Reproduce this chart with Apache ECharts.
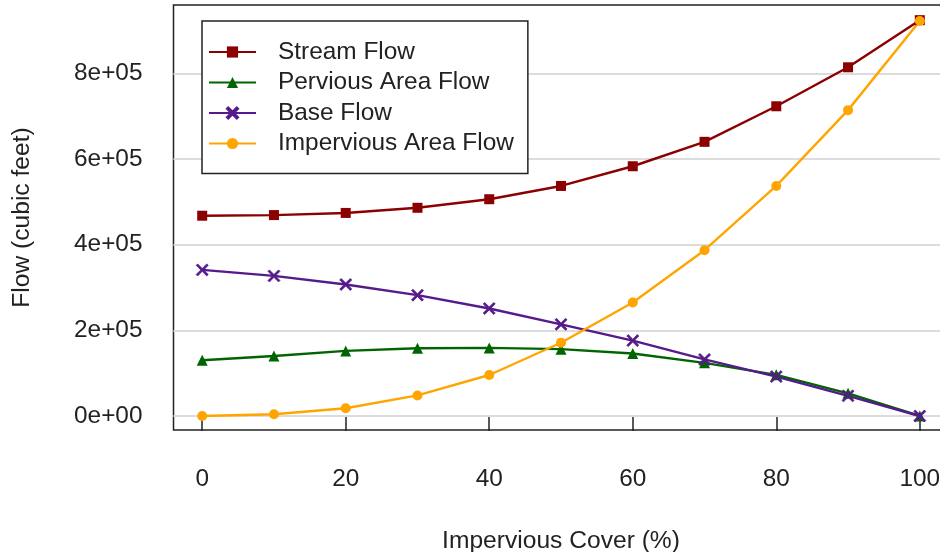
<!DOCTYPE html>
<html>
<head>
<meta charset="utf-8">
<script src="https://cdn.jsdelivr.net/npm/echarts@6/dist/echarts.min.js"></script>
<style>html,body{margin:0;padding:0;background:#fff}#c{width:940px;height:552px}</style>
</head>
<body>
<div id="c"></div>
<script>
const imperviousCover = [0,10,20,30,40,50,60,70,80,90,100];
const streamFlow     = [467500,469000,474000,486000,506000,537000,583000,640000,723000,814000,924000];
const perviousFlow   = [130000,140000,152000,158000,159000,156000,146000,124000,96000,53000,0];
const baseFlow       = [341000,327000,307000,282000,251000,214000,176000,132000,92000,47000,0];
const imperviousFlow = [0,4000,18000,48000,95700,171000,265000,387000,537000,714000,922000];
const seriesNames = ['Stream Flow','Pervious Area Flow','Base Flow','Impervious Area Flow'];
const xTicks = [0,20,40,60,80,100];
const yTicks = [0,200000,400000,600000,800000];

const FONT = '"Liberation Sans", Arial, sans-serif';
const TXT = '#222';
function sci(v){
  const s = v.toExponential(0);
  const m = s.match(/^(-?\d)e([+-])(\d+)$/);
  const e = m[3].length < 2 ? '0' + m[3] : m[3];
  return m[1] + 'e' + m[2] + e;
}
const crossPath = 'path://M0,1.2L1.2,0L5,3.8L8.8,0L10,1.2L6.2,5L10,8.8L8.8,10L5,6.2L1.2,10L0,8.8L3.8,5Z';
const colors = ['#8B0000','#006400','#551A8B','#FFA500'];
const symbols = ['rect','triangle',crossPath,'circle'];
const sizes = [10,11,12,10];
const datasets = [streamFlow, perviousFlow, baseFlow, imperviousFlow];

const series = datasets.map((d,i)=>({
  name: seriesNames[i],
  type: 'line',
  z: 3,
  data: d.map((v,j)=>[imperviousCover[j], v]),
  symbol: symbols[i],
  symbolSize: sizes[i],
  showSymbol: true,
  lineStyle: {color: colors[i], width: 2.4},
  itemStyle: {color: colors[i], borderColor: colors[i], borderWidth: i===2 ? 0.8 : 0},
  emphasis: {disabled: true}
}));
series.unshift({
  type: 'line', data: [], silent: true, z: 1,
  markLine: {
    silent: true, symbol: ['none','none'], z: 1,
    label: {show: false},
    lineStyle: {color: '#dcdcdc', width: 2, type: 'solid'},
    data: yTicks.map(v=>({yAxis: v}))
  }
});

const chart = echarts.init(document.getElementById('c'), null, {renderer:'canvas'});
chart.setOption({
  animation: false,
  backgroundColor: '#fff',
  textStyle: {fontFamily: FONT},
  grid: {left: 173.5, top: 5, width: 775, height: 425, show: true, borderColor: '#222', borderWidth: 1.5, backgroundColor: 'transparent', containLabel: false, outerBoundsMode: 'none'},
  legend: {
    orient: 'vertical', left: 202, top: 21,
    data: seriesNames,
    backgroundColor: '#fff', borderColor: '#222', borderWidth: 1.5,
    padding: [19, 14, 18, 6],
    itemGap: 6.5, itemWidth: 47, itemHeight: 14,
    textStyle: {fontFamily: FONT, fontSize: 24.4, color: TXT, padding: [0,0,0,17]}
  },
  xAxis: {
    type: 'value', min: -4, max: 104,
    axisLine: {show: false},
    axisTick: {show: true, customValues: xTicks, length: 15, lineStyle: {color: '#222', width: 1.5}},
    axisLabel: {customValues: xTicks, fontSize: 24.4, color: TXT, margin: 37, fontFamily: FONT},
    splitLine: {show: false},
    name: 'Impervious Cover (%)', nameLocation: 'middle', nameGap: 99,
    nameTextStyle: {fontSize: 24.6, color: TXT, fontFamily: FONT}
  },
  yAxis: {
    type: 'value', min: -32700, max: 959400,
    axisLine: {show: false},
    axisTick: {show: true, customValues: yTicks, length: 16, lineStyle: {color: '#222', width: 1.5}},
    axisLabel: {customValues: yTicks, fontSize: 24.4, color: TXT, margin: 31, fontFamily: FONT, formatter: sci},
    splitLine: {show: false},
    name: 'Flow (cubic feet)', nameLocation: 'middle', nameGap: 139, nameRotate: 90,
    nameTextStyle: {fontSize: 24.6, color: TXT, fontFamily: FONT}
  },
  series: series
});
</script>
</body>
</html>
